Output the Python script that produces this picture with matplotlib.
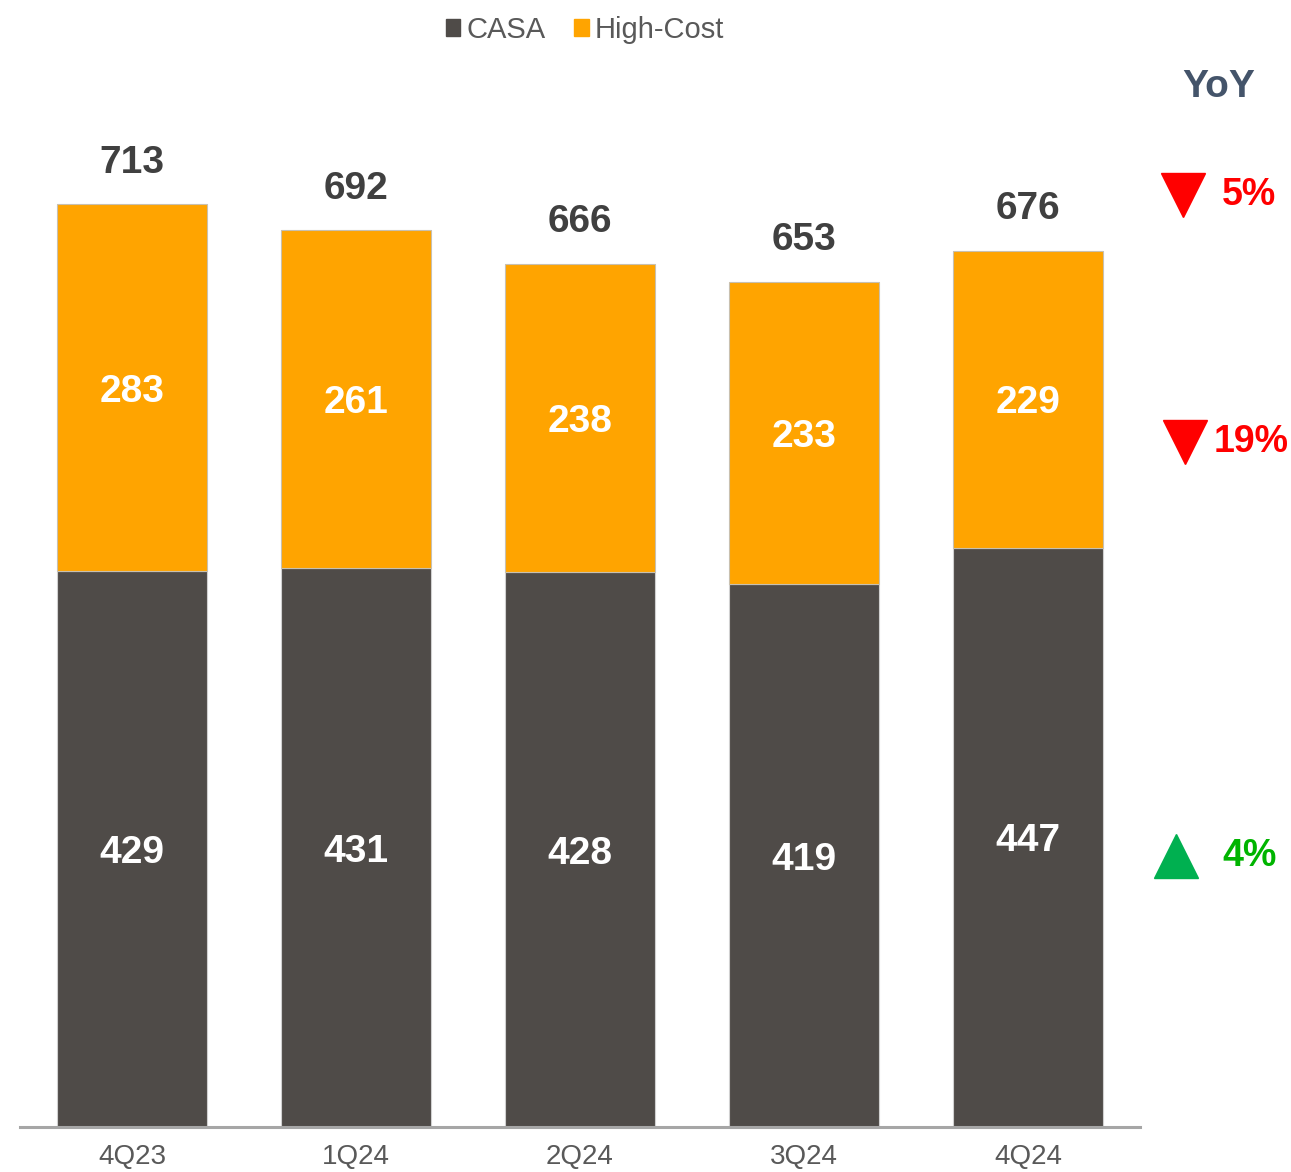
import numpy as np
import matplotlib.pyplot as plt
from matplotlib.lines import Line2D
from matplotlib.patches import Patch

quarters = ["4Q23", "1Q24", "2Q24", "3Q24", "4Q24"]
casa = [429, 431, 428, 419, 447]
high_cost = [283, 261, 238, 233, 229]
totals = [713, 692, 666, 653, 676]

# YoY changes
yoy_labels = ["5%", "19%", "4%"]
yoy_up = [False, False, True]

plt.rcParams['font.family'] = ['Liberation Sans', 'DejaVu Sans']

c_casa = '#4F4B48'
c_hc = '#FFA400'
c_red = '#FF0000'
c_green_tri = '#00B050'
c_green_txt = '#00B400'

W, H = 1291, 1172
fig = plt.figure(figsize=(W / 100, H / 100), dpi=100)
ax = fig.add_axes([20 / W, 45 / H, 1120 / W, (1127 - 60) / H])

x = np.arange(len(quarters))
bw = 0.67
ax.bar(x, casa, bw, color=c_casa, edgecolor='#D0D0D0', linewidth=0.8, zorder=2)
ax.bar(x, high_cost, bw, bottom=casa, color=c_hc, edgecolor='#C8C0B0', linewidth=0.8, zorder=2)

for i in range(len(x)):
    ax.text(x[i], casa[i] / 2, str(casa[i]), ha='center', va='center_baseline',
            color='white', fontsize=28, fontweight='bold')
    ax.text(x[i], casa[i] + high_cost[i] / 2, str(high_cost[i]), ha='center',
            va='center_baseline', color='white', fontsize=28, fontweight='bold')
    ax.annotate(str(totals[i]), (x[i], casa[i] + high_cost[i]), xytext=(0, 17),
                textcoords='offset points', ha='center', va='bottom',
                color='#404040', fontsize=28, fontweight='bold')

ax.set_xlim(-0.5, 4.5)
ax.set_ylim(0, 713 * (1127 - 60) / (1127 - 203))
ax.set_xticks(x)
ax.set_xticklabels(quarters, fontsize=20, color='#595959')
ax.tick_params(axis='x', length=0, pad=12)
ax.set_yticks([])
for s in ['top', 'right', 'left']:
    ax.spines[s].set_visible(False)
ax.spines['bottom'].set_color('#A6A6A6')
ax.spines['bottom'].set_linewidth(2.2)

handles = [Patch(color=c_casa), Patch(color=c_hc)]
fig.legend(handles, ["CASA", "High-Cost"], loc='center', bbox_to_anchor=(585 / W, 1 - 30 / H),
           ncol=2, frameon=False, fontsize=21, handlelength=0.5, handleheight=0.5,
           handletextpad=0.2, columnspacing=1.0, labelcolor='#595959')

# YoY column
fig.text(1219 / W, 1 - 87 / H, "YoY", ha='center', va='center', fontsize=28,
         fontweight='bold', color='#44546A')
tri_x = [1183, 1185, 1176]
tri_y = [195, 442, 856]
txt_x = [1249, 1251, 1250]
for i in range(len(yoy_labels)):
    col_t = c_green_tri if yoy_up[i] else c_red
    col_l = c_green_txt if yoy_up[i] else c_red
    fig.add_artist(Line2D([tri_x[i] / W], [1 - tri_y[i] / H], marker='^' if yoy_up[i] else 'v',
                          markersize=32, color=col_t, linestyle='none',
                          transform=fig.transFigure))
    fig.text(txt_x[i] / W, 1 - tri_y[i] / H, yoy_labels[i], ha='center', va='center',
             fontsize=27, fontweight='bold', color=col_l)

fig.savefig("out.png", dpi=100)
